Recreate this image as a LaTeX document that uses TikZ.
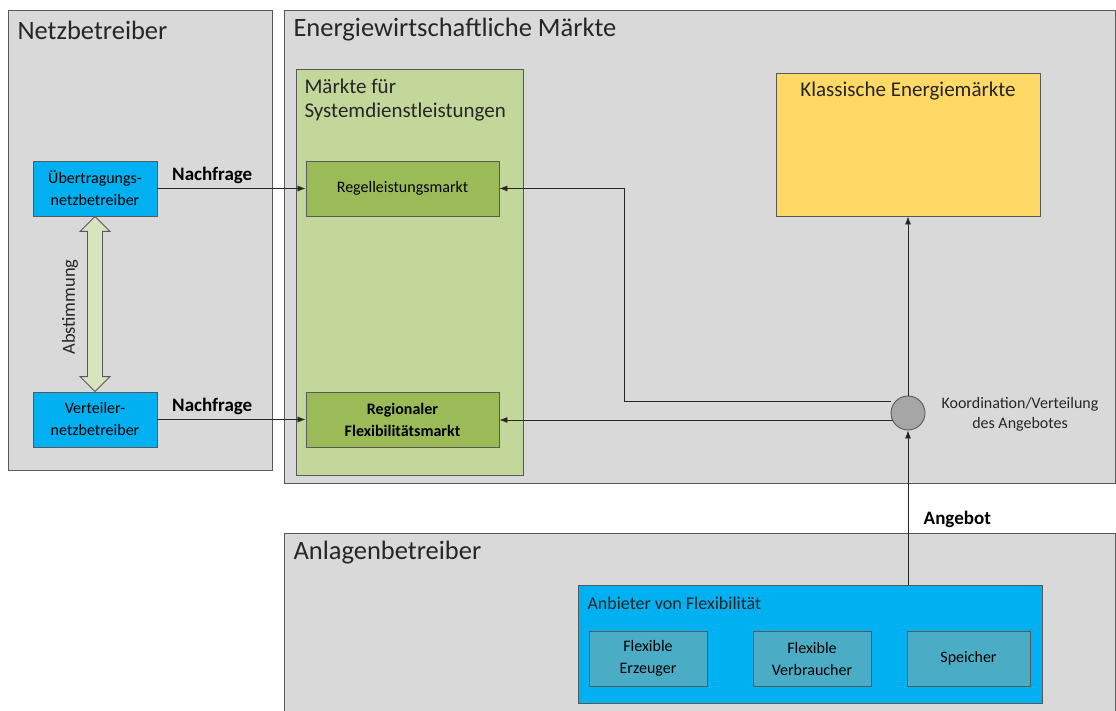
\documentclass[tikz,border=0pt]{standalone}
\usepackage{fontspec}
\setmainfont{Carlito}
\usetikzlibrary{arrows.meta,calc}
\definecolor{panelgray}{HTML}{D9D9D9}
\definecolor{edgegray}{HTML}{595959}
\definecolor{lightgreen}{HTML}{C4D79B}
\definecolor{midgreen}{HTML}{9BBB59}
\definecolor{brightblue}{HTML}{00B0F0}
\definecolor{tealbox}{HTML}{4BACC6}
\definecolor{gold}{HTML}{FFD966}
\definecolor{hubgray}{HTML}{A6A6A6}
\definecolor{paleolive}{HTML}{D7E4BD}
\tikzset{
  panel/.style={draw=edgegray, fill=panelgray, line width=0.9pt},
  paneltitle/.style={anchor=west, font=\fontsize{26.5}{30}\selectfont, text=black!85},
  boxfont/.style={font=\fontsize{16}{22}\selectfont},
  actor/.style={draw=edgegray, fill=brightblue, line width=0.9pt, minimum width=124pt, minimum height=55pt, align=center, boxfont, inner sep=0pt},
  market/.style={draw=edgegray, fill=midgreen, line width=0.9pt, minimum width=193pt, minimum height=55pt, align=center, boxfont, inner sep=0pt},
  unit/.style={draw=edgegray, fill=tealbox, line width=0.9pt, minimum width=120pt, minimum height=55pt, align=center, boxfont, inner sep=0pt},
  flow/.style={draw=black!85, line width=0.8pt, -{Latex[length=8pt,width=6pt]}},
  flowlabel/.style={font=\bfseries\fontsize{19}{22}\selectfont},
}
\begin{document}
\begin{tikzpicture}[x=1pt,y=-1pt]
\useasboundingbox (0,0) rectangle (1116,711);
\clip (0,0) rectangle (1116,711);

% outer panels
\draw[panel] (8,10) rectangle (272,470);
\node[paneltitle] at (14,30) {Netzbetreiber};
\draw[panel] (284,10) rectangle (1115,483);
\node[paneltitle] at (290,30) {Energiewirtschaftliche Märkte};
\draw[panel] (284,533) rectangle (1115,720);
\node[paneltitle] at (290,553) {Anlagenbetreiber};

% market group for system services
\draw[draw=edgegray, fill=lightgreen, line width=0.9pt] (296,69) rectangle (523,475);
\node[anchor=north west, align=left, font=\fontsize{21}{24}\selectfont, text=black!85] at (301,75) {Märkte für\\Systemdienstleistungen};

% grid operators
\node[actor] (uenb) at (95,188.5) {Übertragungs-\\netzbetreiber};
\node[actor] (vnb) at (95,419.5) {Verteiler-\\netzbetreiber};

% markets
\node[market] (rlm) at (402.5,188.5) {Regelleistungsmarkt};
\node[market, font=\bfseries\fontsize{16}{22}\selectfont] (rfm) at (402.5,419.5) {Regionaler\\Flexibilitätsmarkt};
\node[draw=edgegray, fill=gold, line width=0.9pt, minimum width=264pt, minimum height=143pt, inner sep=0pt] (kem) at (908,144.5) {};
\node[font=\fontsize{21}{24}\selectfont, text=black!85] at (908,91) {Klassische Energiemärkte};

% coordination hub
\node[circle, draw=edgegray, fill=hubgray, line width=0.9pt, minimum size=34pt, inner sep=0pt] (hub) at (908,413) {};
\node[align=center, font=\fontsize{16}{20}\selectfont, text=black!85] at (1020,414) {Koordination/Verteilung\\des Angebotes};

% providers of flexibility
\node[draw=edgegray, fill=brightblue, line width=0.9pt, minimum width=464pt, minimum height=118pt, inner sep=0pt] (anb) at (810,644) {};
\node[anchor=west, font=\fontsize{18}{21}\selectfont, text=black!85] at (584,603) {Anbieter von Flexibilität};
\node[unit, minimum width=118pt] (erz) at (648,658.5) {Flexible\\Erzeuger};
\node[unit, minimum width=118pt] (verb) at (812,658.5) {Flexible\\Verbraucher};
\node[unit, minimum width=123pt] (spei) at (968.5,658.5) {Speicher};

% coordination between grid operators
\fill[paleolive, draw=edgegray, line width=0.9pt]
  ($(uenb.south)$) -- ++(15,15) -- ++(-7.5,0) -- ($(vnb.north)+(7.5,-15)$)
  -- ++(7.5,0) -- (vnb.north) -- ++(-15,-15) -- ++(7.5,0)
  -- ($(uenb.south)+(-7.5,15)$) -- ++(-7.5,0) -- cycle;
\node[rotate=90, font=\fontsize{18.5}{22}\selectfont, text=black!85] at (70,307) {Abstimmung};

% demand flows
\draw[flow] (uenb.east) -- (rlm.west) node[flowlabel, pos=0.37, above=1pt] {Nachfrage};
\draw[flow] (vnb.east) -- (rfm.west) node[flowlabel, pos=0.37, above=1pt] {Nachfrage};

% supply flows
\draw[flow] (anb.north -| hub) -- (hub.south) node[flowlabel, anchor=west, pos=0.42, xshift=12pt] {Angebot};
\draw[flow] (hub.north) -- (kem.south);
\draw[flow] (hub.west |- 0,401) -- (624,401) -- (624,188.5) -- (rlm.east);
\draw[flow] ($(hub.center)+(-15.5,7)$) -- (rfm.east |- 0,420);
\end{tikzpicture}
\end{document}
